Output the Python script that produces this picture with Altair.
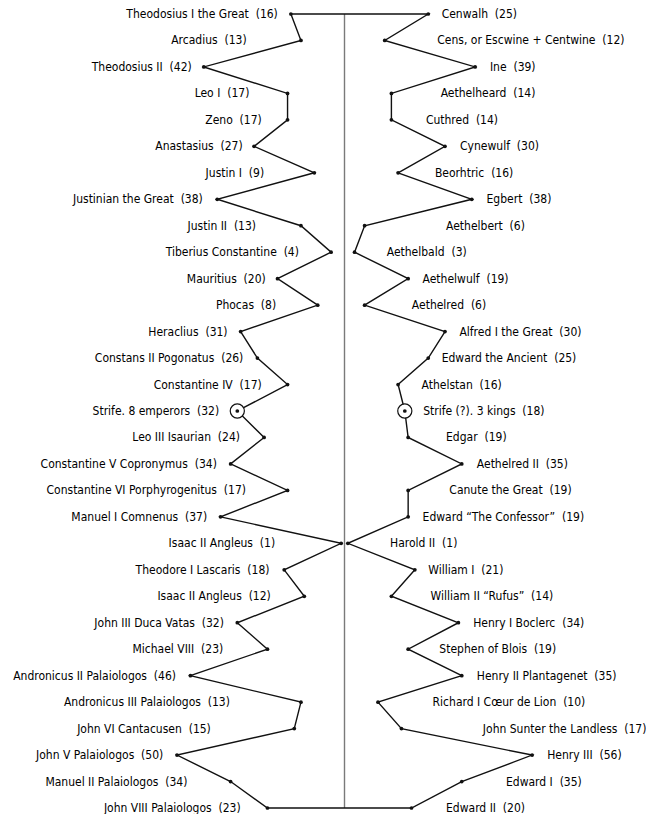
import altair as alt
import pandas as pd

# Byzantine emperors (left) and English kings (right), paired by row; value = years of reign
left_names = [
    "Theodosius I the Great", "Arcadius", "Theodosius II", "Leo I", "Zeno", "Anastasius",
    "Justin I", "Justinian the Great", "Justin II", "Tiberius Constantine", "Mauritius",
    "Phocas", "Heraclius", "Constans II Pogonatus", "Constantine IV", "Strife. 8 emperors",
    "Leo III Isaurian", "Constantine V Copronymus", "Constantine VI Porphyrogenitus",
    "Manuel I Comnenus", "Isaac II Angleus", "Theodore I Lascaris", "Isaac II Angleus",
    "John III Duca Vatas", "Michael VIII", "Andronicus II Palaiologos",
    "Andronicus III Palaiologos", "John VI Cantacusen", "John V Palaiologos",
    "Manuel II Palaiologos", "John VIII Palaiologos",
]
left_years = [16, 13, 42, 17, 17, 27, 9, 38, 13, 4, 20, 8, 31, 26, 17, 32,
              24, 34, 17, 37, 1, 18, 12, 32, 23, 46, 13, 15, 50, 34, 23]

right_names = [
    "Cenwalh", "Cens, or Escwine + Centwine", "Ine", "Aethelheard", "Cuthred", "Cynewulf",
    "Beorhtric", "Egbert", "Aethelbert", "Aethelbald", "Aethelwulf", "Aethelred",
    "Alfred I the Great", "Edward the Ancient", "Athelstan", "Strife (?). 3 kings", "Edgar",
    "Aethelred II", "Canute the Great", "Edward \u201cThe Confessor\u201d", "Harold II",
    "William I", "William II \u201cRufus\u201d", "Henry I Boclerc", "Stephen of Blois",
    "Henry II Plantagenet", "Richard I C\u0153ur de Lion", "John Sunter the Landless",
    "Henry III", "Edward I", "Edward II",
]
right_years = [25, 12, 39, 14, 14, 30, 16, 38, 6, 3, 19, 6, 30, 25, 16, 18,
               19, 35, 19, 19, 1, 21, 14, 34, 19, 35, 10, 17, 56, 35, 20]

# where each hand-placed label sits (in years from the centre line)
left_label_at = [19.9, 29.2, 45.6, 28.4, 24.7, 30.4, 24.0, 42.3, 26.4, 13.6, 23.5,
                 20.4, 34.9, 30.2, 24.7, 37.4, 31.2, 38.1, 29.4, 41.0, 20.7, 22.4,
                 22.0, 36.0, 36.2, 50.3, 34.2, 39.9, 54.1, 46.9, 31.0]
right_label_at = [29.0, 27.7, 43.4, 28.7, 24.3, 34.5, 27.0, 42.4, 30.3, 12.6, 23.3,
                  20.1, 34.3, 29.0, 23.0, 23.5, 30.3, 39.5, 31.3, 23.3, 13.6, 25.0,
                  25.7, 38.4, 28.3, 39.5, 26.3, 41.3, 60.5, 48.2, 30.3]

n = len(left_names)
recs = []
for i, (nm, v) in enumerate(zip(left_names, left_years)):
    recs.append(dict(side="left", row=i, x=-v, order=i,
                     label=f"{nm}\u00a0 ({v})", lx=-left_label_at[i],
                     strife=nm.startswith("Strife")))
for i, (nm, v) in enumerate(zip(right_names, right_years)):
    recs.append(dict(side="right", row=i, x=v, order=2 * n - 1 - i,
                     label=f"{nm}\u00a0 ({v})", lx=right_label_at[i],
                     strife=nm.startswith("Strife")))
pts = pd.DataFrame(recs)
path = pd.concat([pts, pts[(pts.side == "left") & (pts.row == 0)].assign(order=2 * n)],
                 ignore_index=True)

xs = alt.Scale(domain=[-100.45, 90.0], nice=False, zero=False)
ys = alt.Scale(domain=[-0.2267, 30.2267], nice=False, zero=False, reverse=True)

center = alt.Chart(pd.DataFrame({"x": [0], "y0": [0], "y1": [n - 1]})).mark_rule(
    color="#7a7a7a", strokeWidth=1.4
).encode(x=alt.X("x:Q", scale=xs, axis=None),
         y=alt.Y("y0:Q", scale=ys, axis=None), y2="y1:Q")

line = alt.Chart(path).mark_line(color="#111111", strokeWidth=1.4).encode(
    x=alt.X("x:Q", scale=xs, axis=None),
    y=alt.Y("row:Q", scale=ys, axis=None),
    order="order:Q",
)

rings = alt.Chart(pts).transform_filter("datum.strife").mark_point(
    shape="circle", filled=False, fill="white", fillOpacity=1, stroke="#111111",
    strokeWidth=1.2, size=200, opacity=1
).encode(x=alt.X("x:Q", scale=xs, axis=None), y=alt.Y("row:Q", scale=ys, axis=None))

dots = alt.Chart(pts).mark_circle(color="#111111", size=14, opacity=1).encode(
    x=alt.X("x:Q", scale=xs, axis=None), y=alt.Y("row:Q", scale=ys, axis=None))

txt = dict(font="DejaVu Sans Condensed", fontSize=12, color="#000000", baseline="middle")
left_text = alt.Chart(pts).transform_filter("datum.side == 'left'").mark_text(
    align="right", **txt
).encode(x=alt.X("lx:Q", scale=xs, axis=None), y=alt.Y("row:Q", scale=ys, axis=None),
         text="label:N")
right_text = alt.Chart(pts).transform_filter("datum.side == 'right'").mark_text(
    align="left", **txt
).encode(x=alt.X("lx:Q", scale=xs, axis=None), y=alt.Y("row:Q", scale=ys, axis=None),
         text="label:N")

chart = alt.layer(center, line, rings, dots, left_text, right_text).properties(
    width=638, height=806, padding=0,
    autosize=alt.AutoSizeParams(type="none"),
).configure_view(stroke=None)

chart.save("out.html", embed_options={"renderer": "svg", "actions": False})
